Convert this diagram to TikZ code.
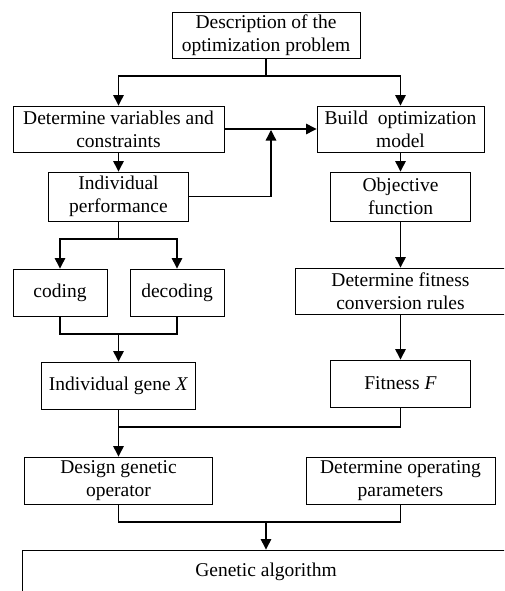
\documentclass[tikz,border=0pt]{standalone}
\usepackage{fontspec}
\setmainfont{Liberation Serif}
\usetikzlibrary{arrows.meta}
\begin{document}
\begin{tikzpicture}[x=1pt,y=-1pt,
  box/.style={draw,line width=0.9pt,inner sep=0pt,align=center,font=\fontsize{19.5}{23}\selectfont},
  conn/.style={line width=1.3pt},
  arr/.style={conn,-{Triangle[length=10.5pt,width=10.5pt]}}]
\useasboundingbox (0,0) rectangle (504,591);
\clip (0,0) rectangle (504,591);
\fill[white] (0,0) rectangle (504,591);
\node[box,minimum width=188pt,minimum height=46pt] (desc) at (266,35) {Description of the\\optimization problem};
\node[box,minimum width=211pt,minimum height=46pt] (var) at (118.5,129) {Determine variables and\\constraints};
\node[box,minimum width=167pt,minimum height=46pt] (build) at (400.5,129) {Build\ \ optimization\\model};
\node[box,minimum width=140pt,minimum height=49pt] (indiv) at (118.5,196.5) {Individual\\performance};
\node[box,minimum width=140pt,minimum height=49pt] (obj) at (400.5,196.5) {Objective\\function};
\node[box,minimum width=94pt,minimum height=47pt] (coding) at (60,292.5) {coding};
\node[box,minimum width=94pt,minimum height=47pt] (decoding) at (177,292.5) {decoding};
\node[box,minimum width=154pt,minimum height=47pt] (gene) at (118.5,385.5) {Individual gene \textit{X}};
\node[box,minimum width=210pt,minimum height=46pt] (fitrules) at (400.5,291) {Determine fitness\\conversion rules};
\node[box,minimum width=140pt,minimum height=47pt] (fitness) at (400.5,383.5) {Fitness \textit{F}};
\node[box,minimum width=188pt,minimum height=47pt] (design) at (118.5,480.5) {Design genetic\\operator};
\node[box,minimum width=189pt,minimum height=47pt] (oppar) at (400.5,480.5) {Determine operating\\parameters};
\node[box,minimum width=488pt,minimum height=44pt] (ga) at (266,572) {Genetic algorithm};
% connectors
\coordinate (j1) at (266,76);
\draw[conn] (desc.south) -- (j1);
\draw[arr] (j1) -| (var.north);
\draw[arr] (j1) -| (build.north);
\draw[arr] (var.east) -- (build.west);
\coordinate (m) at (271,130);
\draw[arr] (indiv.east) -| (m);
\draw[arr] (var.south) -- (indiv.north);
\draw[arr] (build.south) -- (obj.north);
\coordinate (j2) at (118.5,239);
\draw[conn] (indiv.south) -- (j2);
\draw[arr] (j2) -| (coding.north);
\draw[arr] (j2) -| (decoding.north);
\coordinate (j3) at (118.5,334);
\draw[conn] (coding.south) |- (j3) -| (decoding.south);
\draw[arr] (j3) -- (gene.north);
\draw[arr] (obj.south) -- (fitrules.north);
\draw[arr] (fitrules.south) -- (fitness.north);
\coordinate (j4) at (118.5,427);
\draw[conn] (gene.south) -- (j4) -| (fitness.south);
\draw[arr] (j4) -- (design.north);
\coordinate (j5) at (266,522);
\draw[conn] (design.south) |- (j5) -| (oppar.south);
\draw[arr] (j5) -- (ga.north);
\end{tikzpicture}
\end{document}
